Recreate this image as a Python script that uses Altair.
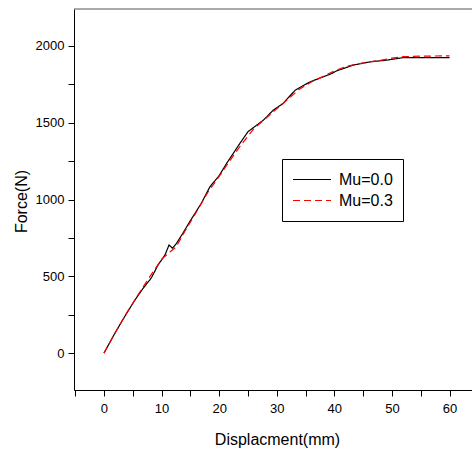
import altair as alt
import pandas as pd

# Mu = 0.0 (solid black)
disp_mu00 = [0, 1.9, 3.6, 5.4, 6.8, 8.2, 9.4, 10.6, 11.3, 11.9, 12.6, 13.7, 14.9, 16.9,
             18.4, 20.0, 21.3, 23.6, 25.0, 27.7, 29.4, 31.1, 33.2, 35.8, 39.3, 40.4,
             43.3, 46.2, 49.1, 52.0, 60.0]
force_mu00 = [0, 130, 238, 347, 422, 488, 574, 639, 704, 683, 715, 780, 856, 975,
              1083, 1155, 1235, 1365, 1441, 1517, 1582, 1625, 1712, 1766, 1816, 1837,
              1875, 1896, 1907, 1924, 1924]

# Mu = 0.3 (dashed red)
disp_mu03 = [0, 2, 4, 6, 8, 10, 11.5, 12.5, 14, 16, 18, 20, 22, 24, 26, 28, 30, 32,
             34, 36, 38, 40, 42, 44, 46, 48, 50, 52, 55, 60]
force_mu03 = [0, 135, 265, 385, 500, 610, 660, 690, 790, 915, 1045, 1150, 1260, 1365,
              1460, 1525, 1590, 1655, 1720, 1765, 1800, 1837, 1866, 1882, 1896, 1906,
              1920, 1930, 1933, 1935]

series_names = ["Mu=0.0", "Mu=0.3"]
series_colors = ["#000000", "#ff0000"]

df = pd.concat([
    pd.DataFrame({"d": disp_mu00, "f": force_mu00, "s": series_names[0]}),
    pd.DataFrame({"d": disp_mu03, "f": force_mu03, "s": series_names[1]}),
])

W, H = 398, 381
FONT = "Liberation Sans"

x_ticks = list(range(-5, 65, 5))
y_ticks = list(range(0, 2250, 250))

legend_kw = dict(title=None, orient="none", legendX=208, legendY=150,
                 symbolType="stroke", symbolSize=1444, symbolStrokeWidth=1.2,
                 symbolOpacity=1, clipHeight=21,
                 labelFontSize=16, labelFont=FONT, labelColor="#000",
                 strokeColor="#000", fillColor="#fff", padding=10,
                 rowPadding=0, labelOffset=7)

lines = alt.Chart(df).mark_line(strokeWidth=1.2, opacity=1).encode(
    x=alt.X("d:Q", scale=alt.Scale(domain=[-5.2, 63.9], nice=False, zero=False),
            axis=alt.Axis(values=x_ticks, title="Displacment(mm)", format="d",
                          labelExpr="datum.value % 10 === 0 ? datum.label : ''",
                          grid=False, tickSize=6, labelPadding=6,
                          labelFont=FONT, labelFontSize=13, titleFont=FONT,
                          titleFontSize=16, titleFontWeight="normal",
                          titleX=203, titleY=54, titleBaseline="alphabetic",
                          titleAlign="center")),
    y=alt.Y("f:Q", scale=alt.Scale(domain=[-240, 2240], nice=False, zero=False),
            axis=alt.Axis(values=y_ticks, title="Force(N)", format="d",
                          labelExpr="datum.value % 500 === 0 ? datum.label : ''",
                          grid=False, tickSize=6, labelPadding=4,
                          labelFont=FONT, labelFontSize=13, titleFont=FONT,
                          titleFontSize=16, titleFontWeight="normal",
                          titleX=-48, titleY=192, titleBaseline="alphabetic",
                          titleAlign="center", titleAngle=270)),
    color=alt.Color("s:N", scale=alt.Scale(domain=series_names, range=series_colors),
                    legend=alt.Legend(**legend_kw)),
    strokeDash=alt.StrokeDash("s:N", scale=alt.Scale(domain=series_names,
                                                     range=[[1, 0], [7, 4]]),
                              legend=alt.Legend(**legend_kw)),
)

top_line = alt.Chart(pd.DataFrame({"a": [0]})).mark_rule(color="#555", strokeWidth=1).encode(
    x=alt.value(0), x2=alt.value(W), y=alt.value(0)
)

chart = alt.layer(lines, top_line).properties(
    width=W, height=H,
    background="white",
    autosize=alt.AutoSizeParams(type="none"),
    padding={"left": 74, "top": 9, "right": 0, "bottom": 60},
).configure_view(stroke=None).configure_axis(
    domainColor="#000", tickColor="#000", labelColor="#000", titleColor="#000",
    domainWidth=1, tickWidth=1,
)

chart.save("out.html", embed_options={"renderer": "svg", "actions": False})
